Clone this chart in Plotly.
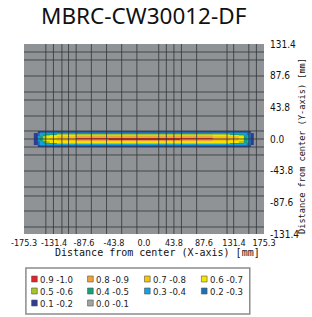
import plotly.graph_objects as go

# ---------------- data ----------------
title_text = "MBRC-CW30012-DF"
x_tick_vals = [-175.3, -131.4, -87.6, -43.8, 0.0, 43.8, 87.6, 131.4, 175.3]
y_tick_vals = [-131.4, -87.6, -43.8, 0.0, 43.8, 87.6, 131.4]

# heatmap cell edges (mm)
x_edges = [-161, -155, -152, -148, -143, -138, -127, -114, -100, -52, 0, 52, 100, 125, 139, 146, 150, 153, 156, 161]
y_edges = [-11, -9.5, -8, -6.5, -5, -3.5, -2, -0.7, 0.7, 2, 3.5, 5, 6.5, 8, 9.5, 11]

# relative illuminance (rows bottom -> top, columns left -> right); None = no light
z_rows = [
    [None, .15, .15, .15, .15, .15, .15, .15, .15, .15, .15, .15, .15, .15, .15, .15, .15, .15, None],
    [None, .18, .22, .25, .25, .25, .25, .25, .25, .25, .25, .25, .25, .25, .25, .22, .20, .18, None],
    [.15, .22, .30, .33, .35, .35, .35, .38, .38, .38, .38, .38, .38, .35, .33, .30, .25, .20, .15],
    [.15, .25, .35, .40, .45, .48, .50, .52, .52, .52, .52, .52, .52, .48, .42, .35, .28, .20, .15],
    [.15, .28, .38, .45, .55, .60, .62, .65, .68, .68, .68, .68, .65, .60, .52, .40, .30, .22, .15],
    [.15, .30, .40, .50, .60, .66, .72, .78, .80, .82, .82, .80, .78, .70, .62, .42, .32, .22, .15],
    [.15, .32, .42, .52, .62, .70, .78, .85, .88, .90, .90, .88, .85, .78, .65, .45, .32, .22, .15],
    [.15, .32, .42, .55, .65, .74, .82, .88, .93, .96, .96, .93, .88, .80, .66, .45, .32, .22, .15],
    [.15, .32, .42, .52, .62, .70, .78, .85, .88, .90, .90, .88, .85, .78, .65, .45, .32, .22, .15],
    [.15, .30, .40, .50, .60, .66, .72, .78, .80, .82, .82, .80, .78, .70, .62, .42, .32, .22, .15],
    [.15, .28, .38, .45, .55, .60, .62, .66, .70, .70, .70, .70, .66, .60, .52, .40, .30, .22, .15],
    [.15, .25, .35, .40, .45, .48, .50, .52, .55, .55, .55, .55, .52, .48, .42, .35, .28, .20, .15],
    [.15, .22, .30, .33, .35, .38, .38, .38, .40, .40, .40, .40, .38, .36, .33, .30, .25, .20, .15],
    [None, .18, .22, .25, .25, .25, .25, .25, .25, .25, .25, .25, .25, .25, .25, .22, .20, .18, None],
    [None, .15, .15, .15, .15, .15, .15, .15, .15, .15, .15, .15, .15, .15, .15, .15, .15, .15, None],
]

legend_labels = ["0.9 -1.0", "0.8 -0.9", "0.7 -0.8", "0.6 -0.7", "0.5 -0.6",
                 "0.4 -0.5", "0.3 -0.4", "0.2 -0.3", "0.1 -0.2", "0.0 -0.1"]
level_colors = ["#e3222b", "#f0a23a", "#f6c600", "#f2e600", "#a6c823",
                "#16a07c", "#12a2e2", "#1d70b6", "#2d3d95", "#a3a3a3"]

# measurement grid lines (mm)
grid_x = [-143.4, -132.3, -119.9, -110.2, -99.1, -76.9, -54.7, -32.6, -10.4,
          21.5, 32.6, 43.7, 54.7, 76.9, 121.3, 131.0, 153.1, 164.2]
grid_y = [120.3, 109.3, 87.1, 65.0, 53.9, 31.8, 11.1, 0.0, -11.1, -22.1,
          -44.3, -66.4, -78.8, -99.6, -121.7]

# ---------------- figure ----------------
W, H = 312, 317
L, R, T, B = 11, 264, 44, 234


def px_x(px):
    return (px - L) / (R - L)


def px_y(py):
    return (B - py) / (B - T)


# discrete colour scale: level k covers [k/10, (k+1)/10]
cs = []
for k in range(10):
    col = level_colors[9 - k]
    cs.append([k / 10, col])
    cs.append([(k + 1) / 10, col])

fig = go.Figure()
fig.add_trace(go.Heatmap(
    x=x_edges, y=y_edges, z=z_rows, zmin=0, zmax=1,
    colorscale=cs, showscale=False, hoverongaps=False,
))

shapes = []
for gx in grid_x:
    shapes.append(dict(type="line", xref="x", yref="paper", x0=gx, x1=gx, y0=0, y1=1,
                       line=dict(color="rgba(50,54,58,0.8)", width=1), layer="above"))
for gy in grid_y:
    shapes.append(dict(type="line", xref="paper", yref="y", x0=0, x1=1, y0=gy, y1=gy,
                       line=dict(color="rgba(50,54,58,0.8)", width=1), layer="above"))

# legend box
shapes.append(dict(type="rect", xref="paper", yref="paper",
                   x0=px_x(13), x1=px_x(249), y0=px_y(268), y1=px_y(314),
                   line=dict(color="#8c8c8c", width=1.5), fillcolor="white", layer="above"))

legend_font = dict(family="Liberation Sans Narrow, DejaVu Sans Condensed, sans-serif", size=9.5, color="#222")
annotations = []
col_x = [19, 78, 138, 198]
row_y = [279, 291, 303]
for i, (lab, col) in enumerate(zip(legend_labels, level_colors)):
    r, c = divmod(i, 4)
    sx, sy = col_x[c], row_y[r]
    shapes.append(dict(type="rect", xref="paper", yref="paper",
                       x0=px_x(sx), x1=px_x(sx + 6), y0=px_y(sy - 3), y1=px_y(sy + 3),
                       fillcolor=col, line=dict(color="#555555", width=0.6), layer="above"))
    annotations.append(dict(text=lab, xref="paper", yref="paper", x=px_x(sx + 6.5), y=px_y(sy),
                            xanchor="left", yanchor="middle", showarrow=False,
                            font=legend_font))

annotations.append(dict(text="Distance from center (X-axis) [mm]", xref="paper", yref="paper",
                        x=px_x(152), y=px_y(252), xanchor="center", yanchor="middle", showarrow=False,
                        font=dict(family="DejaVu Sans Mono, monospace", size=10, color="#111")))
annotations.append(dict(text="Distance from center (Y-axis) [mm]", xref="paper", yref="paper",
                        x=px_x(304), y=px_y(146), xanchor="center", yanchor="middle", showarrow=False,
                        textangle=-90,
                        font=dict(family="DejaVu Sans Mono, monospace", size=8.6, color="#111")))
# chart title (as annotation for precise placement)
annotations.append(dict(text=title_text, xref="paper", yref="paper",
                        x=px_x(138), y=px_y(16), xanchor="center", yanchor="middle", showarrow=False,
                        font=dict(family="Noto Sans, sans-serif", size=22.5, color="#111")))

tick_font = dict(family="Liberation Sans Narrow, DejaVu Sans Condensed, Arial Narrow, sans-serif",
                 size=10, color="#111")

fig.update_layout(
    width=W, height=H,
    margin=dict(l=L, r=W - R, t=T, b=H - B),
    paper_bgcolor="white", plot_bgcolor="#8f9395",
    xaxis=dict(range=[-175.3, 175.3], tickvals=x_tick_vals,
               ticktext=[f"{v:.1f}" for v in x_tick_vals], showgrid=False, zeroline=False,
               ticks="", ticklabelstandoff=2, ticklabeloverflow="allow",
               tickfont=dict(tick_font, size=9), showline=False),
    yaxis=dict(range=[-131.4, 131.4], tickvals=y_tick_vals, side="right",
               ticktext=[f"{v:.1f}" for v in y_tick_vals], showgrid=False, zeroline=False,
               ticks="outside", ticklen=3, tickcolor="rgba(0,0,0,0)",
               ticklabeloverflow="allow",
               tickfont=tick_font, showline=False),
    shapes=shapes, annotations=annotations, showlegend=False,
)

fig.write_html("out.html")
